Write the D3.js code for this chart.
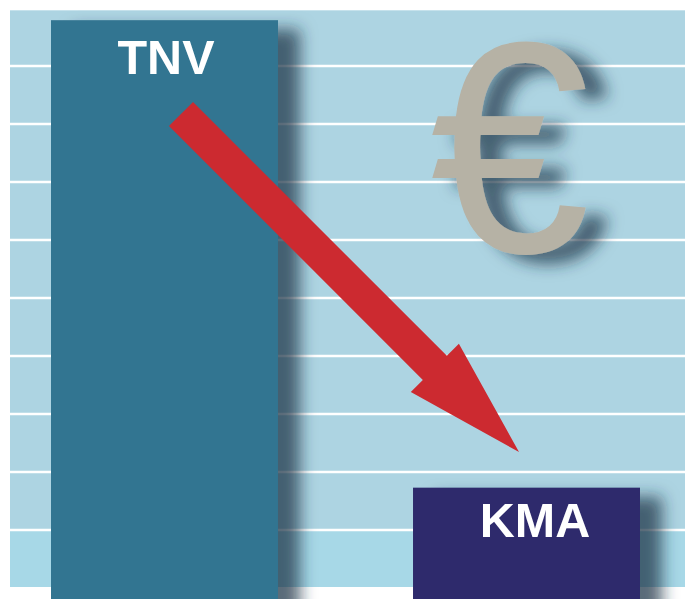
<!DOCTYPE html>
<html><head><meta charset="utf-8">
<script src="https://cdn.jsdelivr.net/npm/d3@7"></script>
<style>html,body{margin:0;padding:0;background:#fff;}svg{display:block;}</style>
</head><body>
<script>
// ---- data ----
const categories = ["TNV", "KMA"];
const values = [9.79, 1.73];
const gridValues = [1, 2, 3, 4, 5, 6, 7, 8, 9];
const symbol = "€";

// ---- layout ----
const W = 685, H = 599;
const svg = d3.select("body").append("svg").attr("width", W).attr("height", H);
const x = d3.scaleBand().domain(categories).range([51, 640]).paddingInner(0.373).paddingOuter(0);
const y = d3.scaleLinear().domain([0, 10]).range([588, 8]);

const defs = svg.append("defs");
const f = defs.append("filter").attr("id", "shadow").attr("x", "-50%").attr("y", "-50%").attr("width", "200%").attr("height", "200%");
f.append("feDropShadow").attr("dx", 22).attr("dy", 9).attr("stdDeviation", 8)
  .attr("flood-color", "#1c3644").attr("flood-opacity", 0.72);

// panel
svg.append("rect").attr("x", 10).attr("y", 10).attr("width", W - 10).attr("height", 577).attr("fill", "#add4e2");
svg.append("rect").attr("x", 10).attr("y", y(1)).attr("width", W - 10).attr("height", 587 - y(1)).attr("fill", "#a7d8e7");
svg.append("line").attr("x1", 10).attr("x2", W).attr("y1", 10.5).attr("y2", 10.5).attr("stroke", "#c6e2ec").attr("stroke-width", 1);

// grid
svg.append("g").selectAll("line").data(gridValues).join("line")
  .attr("x1", 10).attr("x2", W)
  .attr("y1", d => y(d)).attr("y2", d => y(d))
  .attr("stroke", "#ffffff").attr("stroke-width", 2.6);

// euro symbol, fitted to its ink box
const euroBox = {x0: 430, x1: 588, y0: 41, y1: 255};
const euroFont = "'Liberation Sans'";
const ctx = document.createElement("canvas").getContext("2d");
ctx.font = `400 100px ${euroFont}`;
const m = ctx.measureText(symbol);
const inkW = m.actualBoundingBoxLeft + m.actualBoundingBoxRight;
const inkH = m.actualBoundingBoxAscent + m.actualBoundingBoxDescent;
const sx = (euroBox.x1 - euroBox.x0) / inkW;
const sy = (euroBox.y1 - euroBox.y0) / inkH;
svg.append("g").attr("filter", "url(#shadow)")
  .append("text")
  .attr("transform", `translate(${euroBox.x0 + m.actualBoundingBoxLeft * sx},${euroBox.y0 + m.actualBoundingBoxAscent * sy}) scale(${sx},${sy})`)
  .attr("font-family", euroFont).attr("font-size", 100).attr("font-weight", 400)
  .attr("fill", "#b6b2a5")
  .text(symbol);

// bars
const rows = categories.map((c, i) => ({c, v: values[i]}));
svg.append("g").selectAll("rect").data(rows).join("rect")
  .attr("x", d => x(d.c)).attr("width", x.bandwidth())
  .attr("y", d => y(d.v)).attr("height", d => H - y(d.v) + 20)
  .attr("fill", (d, i) => ["#327591", "#2e2a6c"][i])
  .attr("filter", "url(#shadow)");

// labels
const labelDx = [1.5, 8.5], labelDy = [54, 49];
svg.append("g").selectAll("text").data(rows).join("text")
  .attr("x", (d, i) => x(d.c) + x.bandwidth() / 2 + labelDx[i])
  .attr("y", (d, i) => y(d.v) + labelDy[i])
  .attr("text-anchor", "middle")
  .attr("font-family", "'Liberation Sans', Arial, sans-serif")
  .attr("font-weight", 700).attr("font-size", 48.5)
  .attr("fill", "#ffffff")
  .text(d => d.c);

// arrow (from TNV toward KMA)
const tail = [181, 114], tip = [519, 452];
const shaftW = 34, headW = 68, headL = 119;
const dx = tip[0] - tail[0], dy = tip[1] - tail[1];
const len = Math.hypot(dx, dy);
const ux = dx / len, uy = dy / len, nx = -uy, ny = ux;
const bx = tip[0] - ux * headL, by = tip[1] - uy * headL;
const pts = [
  [tail[0] + nx * shaftW / 2, tail[1] + ny * shaftW / 2],
  [bx + nx * shaftW / 2, by + ny * shaftW / 2],
  [bx + nx * headW / 2, by + ny * headW / 2],
  tip,
  [bx - nx * headW / 2, by - ny * headW / 2],
  [bx - nx * shaftW / 2, by - ny * shaftW / 2],
  [tail[0] - nx * shaftW / 2, tail[1] - ny * shaftW / 2]
];
svg.append("path").attr("d", d3.line()(pts) + "Z").attr("fill", "#cc2a30");
</script>
</body></html>
